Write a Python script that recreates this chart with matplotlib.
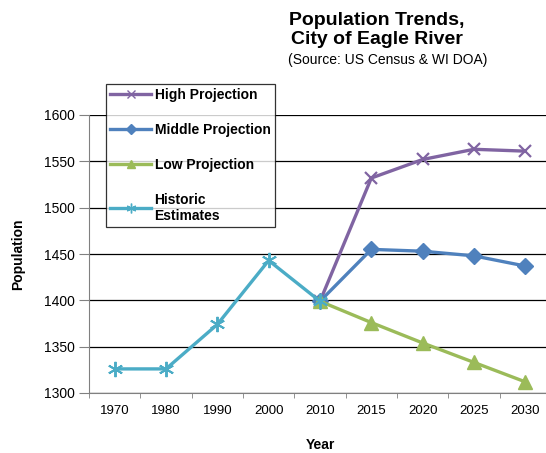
import matplotlib
matplotlib.use("Agg")
import matplotlib.pyplot as plt
from matplotlib.lines import Line2D

plt.rcParams['font.family'] = ['Liberation Sans', 'DejaVu Sans']

years = ["1970", "1980", "1990", "2000", "2010", "2015", "2020", "2025", "2030"]
historic = [1326, 1326, 1374, 1443, 1399]
high = [1399, 1532, 1552, 1563, 1561]
middle = [1399, 1455, 1453, 1448, 1437]
low = [1399, 1376, 1354, 1333, 1312]
yticks = [1300, 1350, 1400, 1450, 1500, 1550, 1600]

c_high = "#8064A2"
c_mid = "#4F81BD"
c_low = "#9BBB59"
c_hist = "#4BACC6"

fig = plt.figure(figsize=(5.46, 4.53), dpi=100)
# plot area runs slightly past the right edge of the canvas
ax = fig.add_axes([89/546, 60/453, 462/546, 278/453])

x_all = list(range(len(years)))
x_hist = x_all[:5]
x_proj = x_all[4:]

lw = 2.4
ax.plot(x_proj, high, color=c_high, lw=lw, marker="x", ms=9, mew=1.6, zorder=3)
ax.plot(x_proj, middle, color=c_mid, lw=lw, marker="D", ms=8, zorder=3)
ax.plot(x_proj, low, color=c_low, lw=lw, marker="^", ms=10, zorder=3)
ax.plot(x_hist, historic, color=c_hist, lw=lw, marker=(6, 2, 0), ms=11, mew=1.4, zorder=4)

ax.set_xlim(-0.5, len(years) - 0.5)
ax.set_ylim(1300, 1600)
ax.set_yticks(yticks)
ax.set_xticks(x_all)
ax.set_xticklabels(years)
ax.set_xticks([i + 0.5 for i in range(-1, len(years))], minor=True)
ax.tick_params(axis="x", which="major", length=0, labelsize=9.5, pad=9)
ax.tick_params(axis="x", which="minor", length=3.5, color="#808080", direction="out")
ax.tick_params(axis="y", length=7, color="#808080", labelsize=10, pad=3.5)
ax.grid(axis="y", color="black", lw=0.9)
ax.set_axisbelow(True)
for s in ["top", "right"]:
    ax.spines[s].set_visible(False)
ax.spines["left"].set_color("#808080")
ax.spines["bottom"].set_color("#808080")

ax.set_xlabel("Year", fontsize=10, fontweight="bold", labelpad=14.5)
ax.set_ylabel("Population", fontsize=10, fontweight="bold", labelpad=13.5)

fig.text(377/546, 1 - 30/453, "Population Trends,\nCity of Eagle River", ha="center",
         va="center", fontsize=14, fontweight="bold", linespacing=1.12)
fig.text(388/546, 1 - 60/453, "(Source: US Census & WI DOA)", ha="center",
         va="center", fontsize=10)

handles = [
    Line2D([], [], color=c_high, lw=lw, marker="x", ms=6, mew=1),
    Line2D([], [], color=c_mid, lw=lw, marker="D", ms=5),
    Line2D([], [], color=c_low, lw=lw, marker="^", ms=6),
    Line2D([], [], color=c_hist, lw=lw, marker=(6, 2, 0), ms=7, mew=1),
]
labels = ["High Projection", "Middle Projection", "Low Projection", "Historic\nEstimates"]
leg = fig.legend(handles, labels, loc="upper left",
                 bbox_to_anchor=(106/546, 1 - 84/453),
                 frameon=True, fancybox=False, edgecolor="black",
                 prop={"weight": "bold", "size": 10}, labelspacing=1.5,
                 handlelength=2.95, handletextpad=0.25, borderpad=0.3,
                 borderaxespad=0)
leg.get_frame().set_linewidth(0.9)

fig.savefig("out.png", dpi=100)
